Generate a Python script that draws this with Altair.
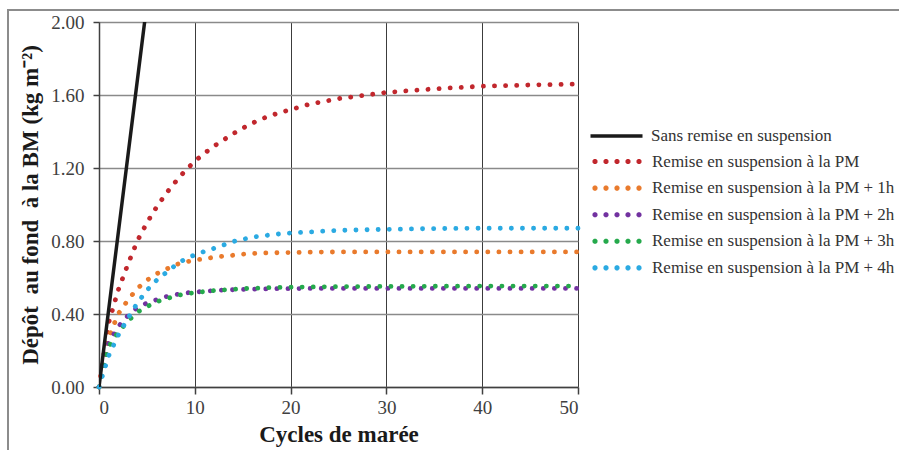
import math
import altair as alt
import pandas as pd

# ---- data ----
cycles = [0, 1, 2, 3, 4, 5, 6, 7, 8, 9, 10, 11, 12, 13, 14, 15, 16, 17, 18, 19, 20,
          22, 25, 30, 35, 40, 45, 50]
pm = [0.00, 0.35, 0.53, 0.67, 0.80, 0.90, 0.985, 1.06, 1.125, 1.185, 1.237, 1.28, 1.32,
      1.354, 1.388, 1.418, 1.446, 1.469, 1.489, 1.505, 1.52, 1.55, 1.58, 1.614, 1.634,
      1.648, 1.655, 1.66]
pm1 = [0.00, 0.27, 0.40, 0.475, 0.54, 0.585, 0.62, 0.645, 0.67, 0.685, 0.695, 0.703,
       0.711, 0.717, 0.722, 0.728, 0.732, 0.734, 0.735, 0.736, 0.737, 0.739, 0.74, 0.74,
       0.74, 0.74, 0.74, 0.74]
pm2 = [0.00, 0.24, 0.33, 0.39, 0.435, 0.46, 0.478, 0.495, 0.506, 0.515, 0.52, 0.524,
       0.528, 0.531, 0.533, 0.535, 0.536, 0.537, 0.538, 0.539, 0.539, 0.54, 0.54, 0.54,
       0.54, 0.54, 0.54, 0.54]
pm3 = [0.00, 0.22, 0.30, 0.36, 0.41, 0.44, 0.467, 0.483, 0.50, 0.51, 0.517, 0.523,
       0.528, 0.532, 0.536, 0.539, 0.541, 0.543, 0.545, 0.546, 0.547, 0.548, 0.55, 0.551,
       0.552, 0.553, 0.553, 0.553]
pm4 = [0.00, 0.17, 0.283, 0.375, 0.46, 0.53, 0.584, 0.627, 0.668, 0.702, 0.724, 0.743,
       0.76, 0.778, 0.797, 0.809, 0.821, 0.828, 0.834, 0.84, 0.844, 0.85, 0.858, 0.864,
       0.868, 0.87, 0.87, 0.87]
sans_x = [0, 5]
sans_y = [0.0, 2.1]

sans_label = "Sans remise en suspension"
labels = ["Remise en suspension à la PM",
          "Remise en suspension à la PM + 1h",
          "Remise en suspension à la PM + 2h",
          "Remise en suspension à la PM + 3h",
          "Remise en suspension à la PM + 4h"]
colors = ["#C1272D", "#E97A2C", "#7232A0", "#25A94C", "#2BAAE2"]

x_ticks = [0, 10, 20, 30, 40, 50]
y_ticks = [0.0, 0.4, 0.8, 1.2, 1.6, 2.0]

rows = []
for lab, ser in zip(labels, [pm, pm1, pm2, pm3, pm4]):
    for c, v in zip(cycles, ser):
        rows.append({"cycle": c, "depot": v, "serie": lab})
df = pd.DataFrame(rows)
df_black = pd.DataFrame({"cycle": sans_x, "depot": sans_y, "serie": [sans_label] * len(sans_x)})

FONT = "Liberation Serif"
W, H = 479, 365


def octagon(cx, r):
    pts = [(cx + r * math.cos(math.pi / 8 + k * math.pi / 4), r * math.sin(math.pi / 8 + k * math.pi / 4))
           for k in range(8)]
    return "M " + " L ".join(f"{x:.3f} {y:.3f}" for x, y in pts) + " Z"


# legend glyph: five round dots (style only)
dots_path = " ".join(octagon(cx, 0.03) for cx in [-2.2, -1.1, 0.0, 1.1, 2.2])

x_enc = alt.X("cycle:Q", scale=alt.Scale(domain=[0, 50], nice=False),
              axis=alt.Axis(values=x_ticks, title="Cycles de marée", grid=True,
                            gridColor="#3c3c3c", gridWidth=1, tickSize=7,
                            labelPadding=4, titlePadding=6))
y_enc = alt.Y("depot:Q", scale=alt.Scale(domain=[0, 2], nice=False),
              axis=alt.Axis(values=y_ticks, format=".2f",
                            title="Dépôt\u00a0 au fond\u00a0 à la BM (kg m⁻²)", grid=True,
                            gridColor="#8a8a8a", gridWidth=1.5, tickSize=6,
                            labelPadding=9, titlePadding=8))

dotted = alt.Chart(df).mark_line(
    strokeDash=[0.1, 11], strokeWidth=4.8, strokeCap="round"
).encode(
    x=x_enc, y=y_enc,
    stroke=alt.Stroke("serie:N", sort=labels,
                      scale=alt.Scale(domain=labels, range=colors),
                      legend=alt.Legend(orient="none", legendX=505.5, legendY=127,
                                        title=None, symbolType=dots_path,
                                        symbolSize=400, symbolStrokeWidth=4.5,
                                        labelOffset=22.5, rowPadding=4.6)),
    detail="serie:N",
)

black = alt.Chart(df_black).mark_line(strokeWidth=3.5, clip=True).encode(
    x="cycle:Q", y="depot:Q",
    color=alt.Color("serie:N", scale=alt.Scale(domain=[sans_label], range=["#1a1a1a"]),
                    legend=alt.Legend(orient="none", legendX=505.5, legendY=102,
                                      title=None, symbolType="M -2.6 0 L 2.6 0",
                                      symbolSize=400, symbolStrokeWidth=3.5,
                                      labelOffset=22.5)),
)

frame_top = alt.Chart(alt.Data(values=[{}])).mark_rule(color="#8c8c8c", strokeWidth=2).encode(
    x=alt.value(-91), x2=alt.value(W + 330), y=alt.value(-12))
frame_left = alt.Chart(alt.Data(values=[{}])).mark_rule(color="#8c8c8c", strokeWidth=2).encode(
    x=alt.value(-91), y=alt.value(-13), y2=alt.value(H + 80))

chart = alt.layer(frame_top, frame_left, dotted, black).properties(
    width=W, height=H,
    background="white",
    autosize=alt.AutoSizeParams(type="none"),
    padding={"left": 99, "top": 22, "right": 899 - 99 - W, "bottom": 450 - 22 - H},
).configure_view(stroke=None).configure_axis(
    labelFont=FONT, labelFontSize=19, labelColor="#404040",
    titleFont=FONT, titleFontSize=23, titleFontWeight="bold", titleColor="#1a1a1a",
    domainColor="#404040", domainWidth=1.5, tickColor="#404040", tickWidth=1.5,
).configure_legend(
    labelFont=FONT, labelFontSize=17, labelColor="#333333", labelLimit=400,
)

chart.save("out.html", embed_options={"renderer": "svg", "actions": False})
